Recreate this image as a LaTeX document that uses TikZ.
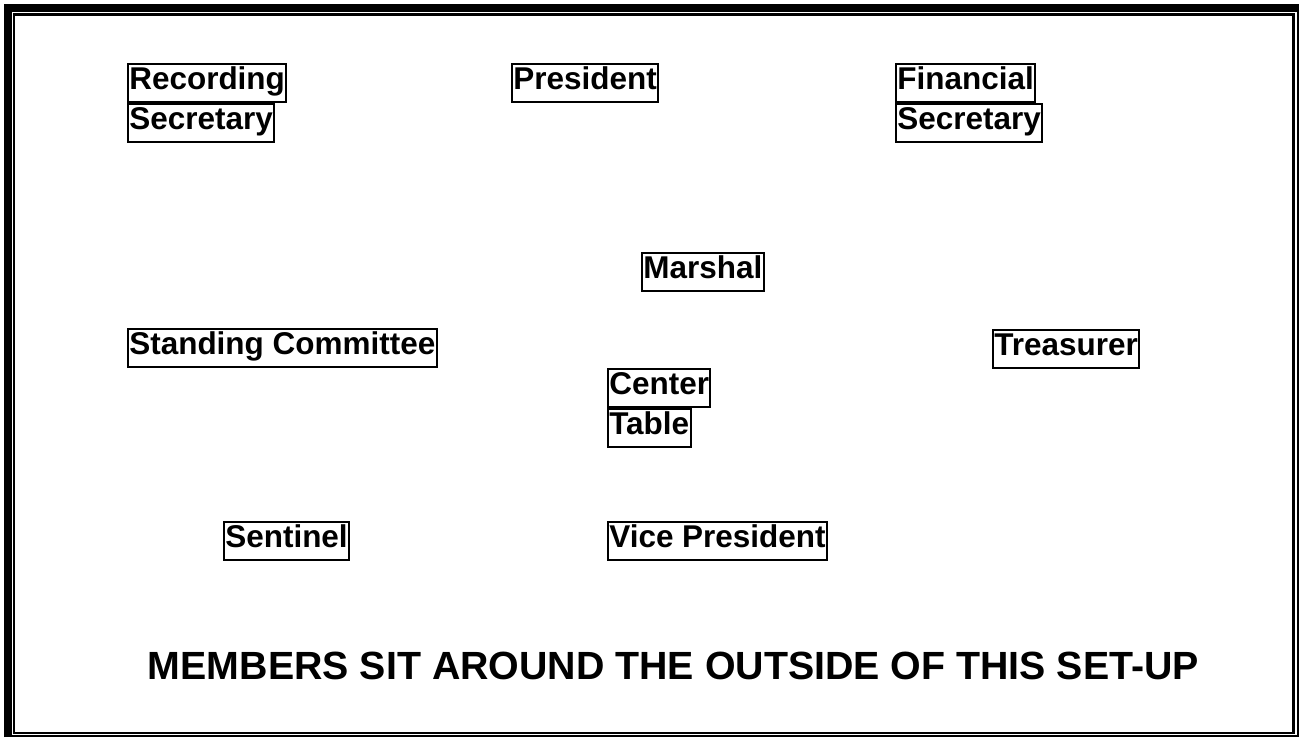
\documentclass[tikz,border=0pt]{standalone}
\usepackage{fontspec}
\setmainfont{Liberation Sans}
\usetikzlibrary{positioning}
\tikzstyle{seat} = [rectangle, anchor=north west, draw=black, line width=1.5pt,
inner xsep=1pt, inner ysep=0.75pt, text height=18.5pt, text depth=8.5pt,
font=\fontsize{23.6}{28}\selectfont\bfseries]
\tikzstyle{notice} = [anchor=base, inner sep=0pt, font=\fontsize{29.5}{34}\selectfont\bfseries]
\tikzstyle{thickframe} = [line width=6pt]
\tikzstyle{thinframe} = [line width=1.7pt]

\begin{document}
\begin{tikzpicture}[x=0.75pt,y=-0.75pt]
\useasboundingbox (0,0) rectangle (1299,738);

% frame
\draw [thinframe] (8,8) rectangle (1297.7,736);
\draw [thickframe] (7.5,737) -- (7.5,8) -- (1298.7,8);
\draw [thinframe] (13.8,14.5) rectangle (1293.5,733.3);

\node (rec1) [seat] at (127,63) {Recording};
\node (rec2) [seat] at (rec1.south west) {Secretary};
\node (pres) [seat] at (511,63) {President};
\node (fin1) [seat] at (895,63) {Financial};
\node (fin2) [seat] at (fin1.south west) {Secretary};
\node (marsh) [seat] at (641,252) {Marshal};
\node (stand) [seat] at (127,328) {Standing Committee};
\node (treas) [seat] at (992,329) {Treasurer};
\node (cent1) [seat] at (607,368) {Center};
\node (cent2) [seat] at (cent1.south west) {Table};
\node (sent) [seat] at (223,521) {Sentinel};
\node (vice) [seat] at (607,521) {Vice President};

\node (members) [notice] at (673.5,679) {MEMBERS SIT AROUND THE OUTSIDE OF THIS SET-UP};

\end{tikzpicture}
\end{document}
